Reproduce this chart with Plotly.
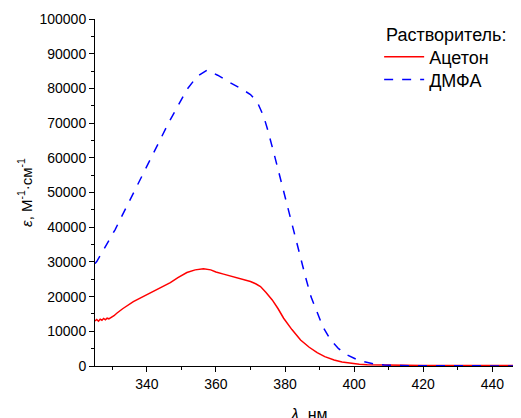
import plotly.graph_objects as go

# Acetone (red, solid)
wl_acetone = [325, 325.5, 326, 326.5, 327, 327.5, 328, 328.5, 329, 329.8, 330.5, 331.3, 333, 336.1, 338.5, 341, 344, 346.8,
              349, 351.6, 354, 356.4, 358.5, 360, 362.2, 365, 369, 370, 371.5, 372.9, 374.5, 376.3, 378, 379.6, 382,
              384.5, 387, 389.3, 391.5, 394.2, 396.5, 399, 401.5, 403.8, 407, 410, 415, 420, 430, 440, 449]
eps_acetone = [13000, 13400, 12900, 13500, 13200, 13700, 13300, 13800, 13600, 14060, 14500, 15210, 16500, 18560, 19800, 20980,
               22500, 24050, 25500, 26940, 27700, 28000, 27700, 27100, 26470, 25700, 24630, 24340, 23700, 22900, 21200,
               19050, 16500, 13770, 10500, 7500, 5400, 3840, 2700, 1730, 1150, 780, 520, 375, 270, 220, 200, 180, 160,
               150, 140]

# DMF (blue, dashed)
wl_dmf = [325, 325.5, 330.8, 336.1, 341, 346.3, 351.6, 354.5, 357.4, 360.5, 364.2, 367, 370, 372, 373.8, 375, 377,
          379.2, 381, 382.5, 384, 385.9, 387.5, 389.3, 391, 393.2, 395.5, 398, 400.5, 402.9, 405.5, 408.7, 412,
          420, 430, 440, 449]
eps_dmf = [29500, 30100, 39260, 49860, 59470, 70060, 79680, 83400, 85260, 83800, 81600, 80100, 78240, 76000, 72000,
           68000, 60500, 51770, 45000, 39260, 33000, 25780, 20000, 15210, 11200, 7500, 5000, 3180, 2000, 1240, 650,
           290, 120, 60, 40, 30, 20]

legend_title = "Растворитель:"
x_title = "<i>λ</i>, нм"
y_title = "<i>ε</i>, М<sup>-1</sup>·см<sup>-1</sup>"

fig = go.Figure()
fig.add_trace(go.Scatter(x=wl_acetone, y=eps_acetone, mode="lines", name="Ацетон", legend="legend",
                         line=dict(color="#ff0000", width=1.5)))
fig.add_trace(go.Scatter(x=wl_dmf, y=eps_dmf, mode="lines", name="ДМФА", legend="legend2",
                         line=dict(color="#0000ff", width=1.5, dash="dash")))

font_family = "Liberation Sans, Arial, sans-serif"
leg_common = dict(xanchor="left", yanchor="top", font=dict(size=18), bgcolor="rgba(0,0,0,0)", itemwidth=40)
# page body has an 8px margin, so the figure is sized/offset to compensate
fig.update_layout(
    width=513, height=410,
    margin=dict(l=87, r=0, t=11, b=52),
    plot_bgcolor="white", paper_bgcolor="white",
    font=dict(family=font_family, size=14, color="black"),
    showlegend=True,
    legend=dict(x=0.667, y=0.944, **leg_common),
    legend2=dict(x=0.667, y=0.878, **leg_common),
    annotations=[
        dict(text=legend_title, xref="paper", yref="paper", x=0.678, y=0.954,
             xanchor="left", yanchor="middle", showarrow=False, font=dict(size=18)),
        dict(text=x_title, xref="paper", yref="paper", x=0.503, y=-0.141,
             xanchor="center", yanchor="middle", showarrow=False, font=dict(size=16)),
    ],
    xaxis=dict(
        range=[325, 448.3], showgrid=False, zeroline=False, automargin=False,
        showline=True, linecolor="black", linewidth=1,
        ticks="outside", ticklen=5, tickcolor="black",
        tickvals=[340, 360, 380, 400, 420, 440],
        minor=dict(ticks="outside", ticklen=3, tickcolor="black", tickvals=[330, 350, 370, 390, 410, 430, 450]),
        tickfont=dict(size=14),
    ),
    yaxis=dict(
        range=[0, 100000], showgrid=False, zeroline=False, automargin=False,
        showline=True, linecolor="black", linewidth=1,
        ticks="outside", ticklen=5, tickcolor="black",
        tickvals=list(range(0, 100001, 10000)),
        ticktext=[str(v) for v in range(0, 100001, 10000)],
        minor=dict(ticks="outside", ticklen=3, tickcolor="black", dtick=5000),
        title=dict(text=y_title, font=dict(size=15), standoff=3),
        tickfont=dict(size=14),
    ),
)

fig.write_html("out.html")
